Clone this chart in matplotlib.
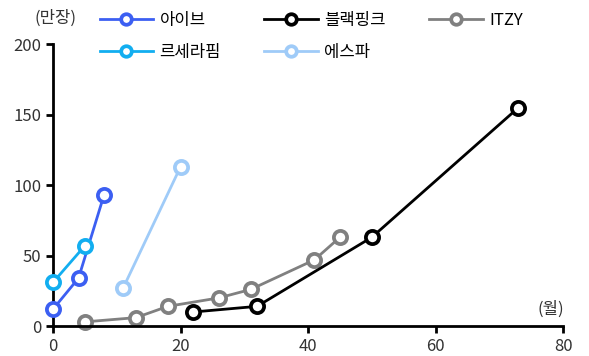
import matplotlib
matplotlib.use('Agg')
import matplotlib.pyplot as plt

plt.rcParams['font.family'] = ['Noto Sans CJK KR', 'DejaVu Sans']

# months since debut vs cumulative album sales (10k units)
ive_x = [0, 4, 8]
ive_y = [12, 34, 93]
lsf_x = [0, 5]
lsf_y = [31, 57]
bp_x = [22, 32, 50, 73]
bp_y = [10, 14, 63, 155]
aespa_x = [11, 20]
aespa_y = [27, 113]
itzy_x = [5, 13, 18, 26, 31, 41, 45]
itzy_y = [3, 6, 14, 20, 26, 47, 63]

x_ticks = [0, 20, 40, 60, 80]
y_ticks = [0, 50, 100, 150, 200]

fig = plt.figure(figsize=(5.89, 3.56), dpi=100)
ax = fig.add_axes([0.09, 0.084, 0.866, 0.792])

def line(x, y, color, label, z):
    ax.plot(x, y, color=color, lw=2, marker='o', ms=9.5, mew=2.7,
            mfc='white', mec=color, label=label, zorder=z, clip_on=False)

# legend fills column-wise, so this order gives the two rows
line(ive_x, ive_y, '#3c5ff2', '아이브', 5)
line(lsf_x, lsf_y, '#12aef0', '르세라핌', 6)
line(bp_x, bp_y, '#000000', '블랙핑크', 4)
line(aespa_x, aespa_y, '#9fcbf8', '에스파', 3)
line(itzy_x, itzy_y, '#808080', 'ITZY', 2)

ax.set_xlim(0, 80)
ax.set_ylim(0, 200)
ax.set_xticks(x_ticks)
ax.set_yticks(y_ticks)
ax.spines['top'].set_visible(False)
ax.spines['right'].set_visible(False)
for s in ['left', 'bottom']:
    ax.spines[s].set_linewidth(2)
ax.tick_params(width=2, length=5, labelsize=12, colors='black', labelcolor='#333333')

fig.text(0.058, 0.948, '(만장)', fontsize=12, color='#333333', ha='left', va='center')
fig.text(0.935, 0.13, '(월)', fontsize=12, color='#333333', ha='center', va='center')

ax.legend(ncol=3, frameon=False, fontsize=12, loc='upper left',
          bbox_to_anchor=(0.169, 0.967), bbox_transform=fig.transFigure,
          handlelength=3.2, columnspacing=2.6, labelspacing=0.9, handletextpad=0.4,
          borderaxespad=0, borderpad=0, markerscale=0.8)

fig.savefig('out.png', dpi=100)
